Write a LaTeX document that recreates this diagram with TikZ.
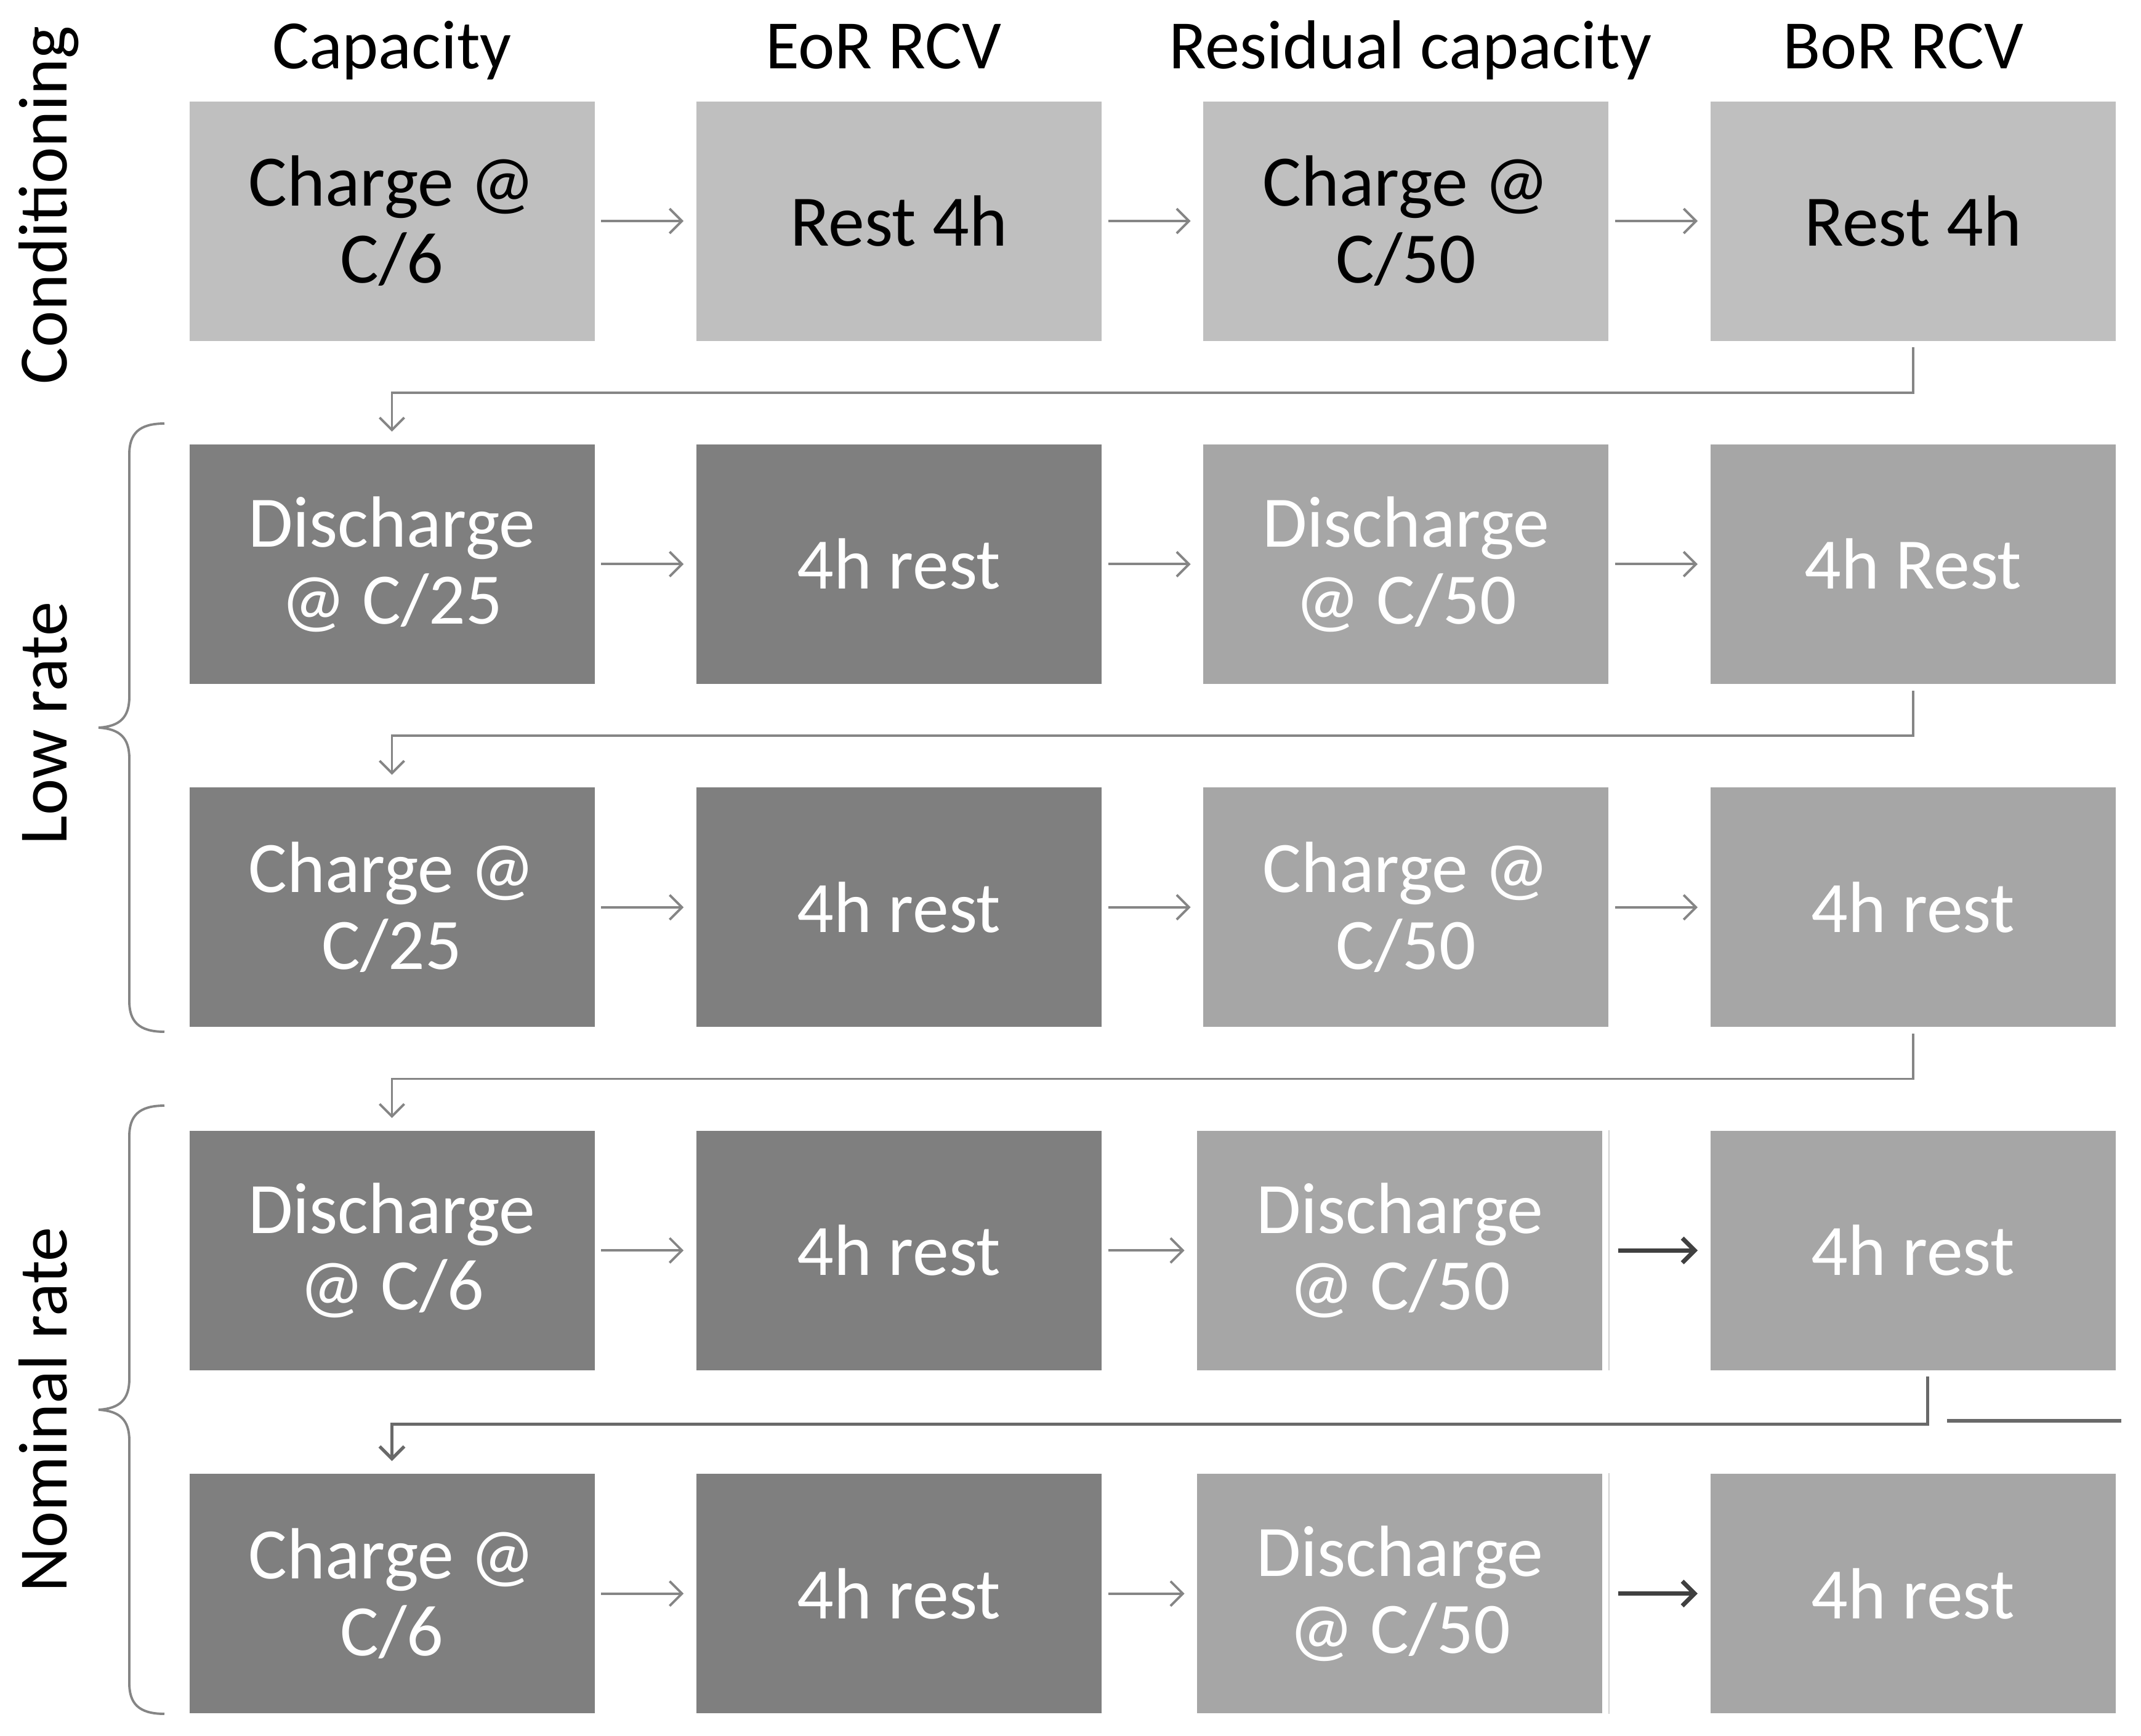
\documentclass[tikz,border=0pt]{standalone}
\usepackage{fontspec}
\setmainfont{Carlito}
\usetikzlibrary{positioning,arrows.meta}
\definecolor{lightbox}{HTML}{BFBFBF}
\definecolor{darkbox}{HTML}{7F7F7F}
\definecolor{midbox}{HTML}{A6A6A6}
\definecolor{linegray}{HTML}{858585}
\definecolor{darkline}{HTML}{404040}

\begin{document}
\begin{tikzpicture}[
  stage/.style={minimum width=6.58cm, minimum height=3.89cm, inner sep=0pt,
    align=center, font=\fontsize{33.5}{35.5}\selectfont, text=white},
  cond/.style={stage, fill=lightbox, text=black},
  slow/.style={stage, fill=darkbox},
  fast/.style={stage, fill=midbox},
  flow/.style={-{Straight Barb[length=0.2cm,width=0.4cm]}, draw=linegray,
    line width=1.1pt, shorten <=0.1cm, shorten >=0.2cm},
  boldflow/.style={flow, draw=darkline, line width=2pt},
  header/.style={font=\fontsize{32}{37}\selectfont, anchor=base},
  side/.style={font=\fontsize{32}{37}\selectfont, rotate=90, anchor=base},
  ratebrace/.style={draw=linegray, line width=1.1pt},
  node distance=1.67cm and 1.64cm
]
\useasboundingbox (0,0) rectangle (34.77,-28.20);

% conditioning
\node[cond] (cap1) at (6.365,-3.59) {Charge @\\C/6};
\node[cond, right=of cap1] (eor1) {Rest 4h};
\node[cond, right=of eor1] (res1) {Charge @\\C/50};
\node[cond, right=of res1] (bor1) {Rest 4h};

% low rate
\node[slow, below=of cap1] (cap2) {Discharge\\@ C/25};
\node[slow, right=of cap2] (eor2) {4h rest};
\node[fast, right=of eor2] (res2) {Discharge\\@ C/50};
\node[fast, right=of res2] (bor2) {4h Rest};

\node[slow, below=of cap2] (cap3) {Charge @\\C/25};
\node[slow, right=of cap3] (eor3) {4h rest};
\node[fast, right=of eor3] (res3) {Charge @\\C/50};
\node[fast, right=of res3] (bor3) {4h rest};

% nominal rate
\node[slow, below=of cap3] (cap4) {Discharge\\@ C/6};
\node[slow, right=of cap4] (eor4) {4h rest};
\node[fast, right=1.54cm of eor4] (res4) {Discharge\\@ C/50};
\node[fast, right=1.74cm of res4] (bor4) {4h rest};

\node[slow, below=of cap4] (cap5) {Charge @\\C/6};
\node[slow, right=of cap5] (eor5) {4h rest};
\node[fast, right=1.54cm of eor5] (res5) {Discharge\\@ C/50};
\node[fast, right=1.74cm of res5] (bor5) {4h rest};

% column and row titles
\node[header] (hcap) at (cap1 |- 0,-1.11) {Capacity};
\node[header, xshift=-0.25cm] (heor) at (eor1 |- 0,-1.11) {EoR RCV};
\node[header, xshift=0.07cm] (hres) at (res1 |- 0,-1.11) {Residual capacity};
\node[header, xshift=-0.16cm] (hbor) at (bor1 |- 0,-1.11) {BoR RCV};

\node[side] (lcond) at (1.08,-3.33) {Conditioning};
\node[side] (llow) at (1.08,-11.75) {Low rate};
\node[side] (lnom) at (1.08,-22.90) {Nominal rate};

\draw[ratebrace] (2.67,-6.88) .. controls (2.25,-6.88) and (2.10,-7.05) .. (2.10,-7.38)
  -- (2.10,-11.32) .. controls (2.10,-11.65) and (1.95,-11.80) .. (1.60,-11.82)
  .. controls (1.95,-11.84) and (2.10,-11.99) .. (2.10,-12.32)
  -- (2.10,-16.26) .. controls (2.10,-16.59) and (2.25,-16.76) .. (2.67,-16.76);
\draw[ratebrace] (2.67,-17.96) .. controls (2.25,-17.96) and (2.10,-18.13) .. (2.10,-18.46)
  -- (2.10,-22.40) .. controls (2.10,-22.73) and (1.95,-22.88) .. (1.60,-22.90)
  .. controls (1.95,-22.92) and (2.10,-23.07) .. (2.10,-23.40)
  -- (2.10,-27.34) .. controls (2.10,-27.67) and (2.25,-27.84) .. (2.67,-27.84);

% arrows along each row
\foreach \r in {1,2,3,4,5} {
  \draw[flow] (cap\r) -- (eor\r);
  \draw[flow] (eor\r) -- (res\r);
}
\foreach \r in {1,2,3}
  \draw[flow] (res\r) -- (bor\r);
\draw[boldflow, shorten <=0.25cm] (res4) -- (bor4);
\draw[boldflow, shorten <=0.25cm] (res5) -- (bor5);

% returns to the next row
\draw[flow] (bor1.south) -- ++(0,-0.835) -| (cap2.north);
\draw[flow] (bor2.south) -- ++(0,-0.835) -| (cap3.north);
\draw[flow] (bor3.south) -- ++(0,-0.835) -| (cap4.north);
\draw[flow, line width=1.5pt, draw=linegray!60!darkline] ([xshift=0.24cm]bor4.south) -- ++(0,-0.87) -| (cap5.north);
\draw[line width=1.5pt, draw=linegray!60!darkline] (31.62,-23.08) -- (34.45,-23.08);

% thin edges beside the C/50 boxes
\draw[line width=0.6pt, draw=black!18] ([xshift=0.1cm]res4.north east) -- ([xshift=0.1cm]res4.south east);
\draw[line width=0.6pt, draw=black!18] ([xshift=0.1cm]res5.north east) -- ([xshift=0.1cm]res5.south east);
\end{tikzpicture}
\end{document}
